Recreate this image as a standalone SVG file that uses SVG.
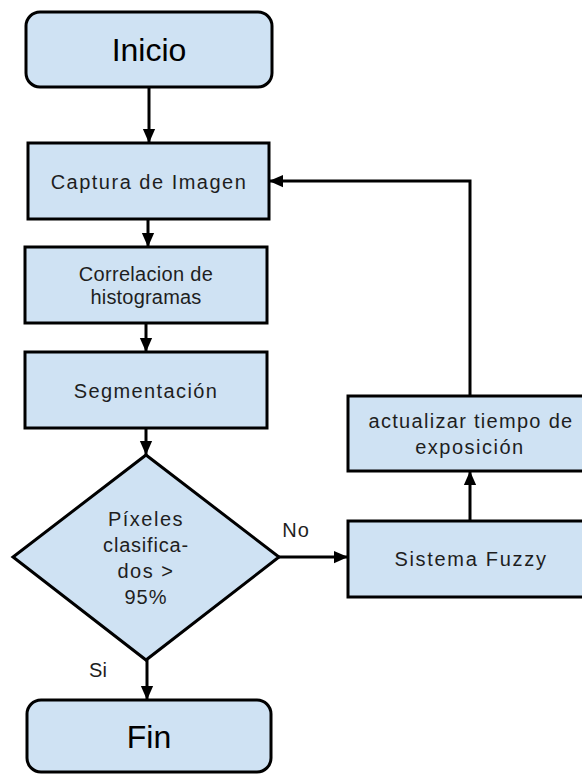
<svg xmlns="http://www.w3.org/2000/svg" width="582" height="774" viewBox="0 0 582 774">
<defs>
<marker id="ah" markerWidth="14" markerHeight="16" viewBox="0 0 16 14" refX="16" refY="7" orient="auto" markerUnits="userSpaceOnUse">
<path d="M0,0 L16,7 L0,14 Z" fill="#000"/>
</marker>
<style>
.box{fill:#cfe2f3;stroke:#000;stroke-width:3}
.t{font-family:"Liberation Sans",Arial,sans-serif;font-size:20px;fill:#1e1e1e;text-anchor:middle}
.big{font-family:"Liberation Sans",Arial,sans-serif;font-size:32px;fill:#000;text-anchor:middle}
.c{fill:none;stroke:#000;stroke-width:3}
</style>
</defs>
<rect width="582" height="774" fill="#fff"/>
<g id="connectors">
<line class="c" x1="149" y1="87" x2="149" y2="143" marker-end="url(#ah)"/>
<line class="c" x1="148" y1="219" x2="148" y2="247" marker-end="url(#ah)"/>
<line class="c" x1="146" y1="323" x2="146" y2="352" marker-end="url(#ah)"/>
<line class="c" x1="146" y1="428" x2="146" y2="455" marker-end="url(#ah)"/>
<line class="c" x1="147" y1="660" x2="147" y2="700" marker-end="url(#ah)"/>
<line class="c" x1="279" y1="557" x2="348" y2="557" marker-end="url(#ah)"/>
<line class="c" x1="470" y1="521" x2="470" y2="471" marker-end="url(#ah)"/>
<polyline class="c" points="470,396 470,181 269,181" marker-end="url(#ah)"/>
<text class="t" x="296" y="537" style="letter-spacing:1px">No</text>
<text class="t" x="98" y="677">Si</text>
</g>
<g id="inicio">
<rect class="box" x="26" y="12" width="246" height="75" rx="14"/>
<text class="big" x="149" y="61">Inicio</text>
</g>
<g id="captura">
<rect class="box" x="28" y="143" width="241" height="76"/>
<text class="t" x="149" y="189" style="letter-spacing:1.5px">Captura de Imagen</text>
</g>
<g id="correlacion">
<rect class="box" x="25" y="247" width="242" height="76"/>
<text class="t" x="146" y="281" style="letter-spacing:0.3px">Correlacion de</text>
<text class="t" x="146" y="304" style="letter-spacing:0.2px">histogramas</text>
</g>
<g id="segmentacion">
<rect class="box" x="25" y="352" width="242" height="76"/>
<text class="t" x="146" y="398" style="letter-spacing:1.4px">Segmentación</text>
</g>
<g id="decision">
<polygon class="box" points="146,455 279,557 146,660 13,557"/>
<text class="t" x="146" y="526" style="letter-spacing:1.5px">Píxeles</text>
<text class="t" x="146" y="552" style="letter-spacing:0.8px">clasifica-</text>
<text class="t" x="146" y="578" style="letter-spacing:1.5px">dos &gt;</text>
<text class="t" x="146" y="604" style="letter-spacing:1px">95%</text>
</g>
<g id="fin">
<rect class="box" x="27" y="700" width="244" height="72" rx="14"/>
<text class="big" x="149" y="748">Fin</text>
</g>
<g id="actualizar">
<rect class="box" x="348" y="396" width="244" height="75"/>
<text class="t" x="471" y="428" style="letter-spacing:1.3px">actualizar tiempo de</text>
<text class="t" x="470" y="454" style="letter-spacing:1.5px">exposición</text>
</g>
<g id="fuzzy">
<rect class="box" x="348" y="521" width="244" height="76"/>
<text class="t" x="471" y="566" style="letter-spacing:1.7px">Sistema Fuzzy</text>
</g>
</svg>
